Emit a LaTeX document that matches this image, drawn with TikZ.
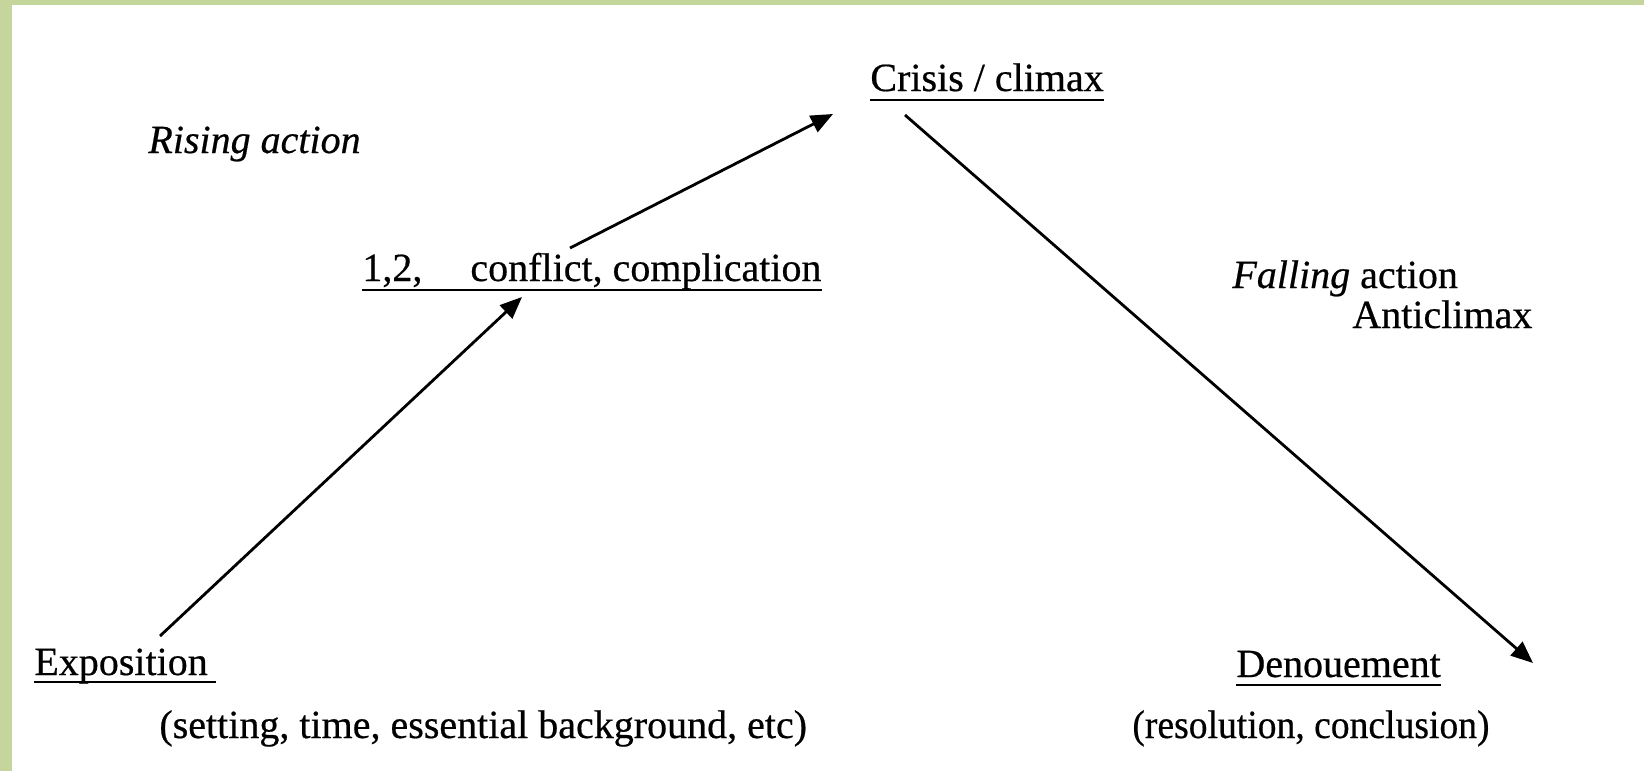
\documentclass[tikz,border=0pt]{standalone}
\usepackage{fontspec}
\setmainfont{Liberation Serif}[FakeBold=0.5]
\usetikzlibrary{arrows.meta}
\definecolor{framegreen}{RGB}{196,214,155}
\begin{document}
\begin{tikzpicture}[x=0.5pt,y=-0.5pt,
  lbl/.style={inner sep=0pt, anchor=base west, font=\fontsize{20pt}{24pt}\selectfont},
  uline/.style={line width=1.1pt},
  arr/.style={line width=1.4pt, -{Triangle[length=11pt,width=9pt]}}]
\useasboundingbox (0,0) rectangle (1644,771);
\fill[white] (0,0) rectangle (1644,771);
\fill[framegreen] (0,0) rectangle (1644,5);
\fill[framegreen] (0,0) rectangle (12,771);
% texts
\node[lbl] (rising) at (148,153) {\textit{Rising action}};
\node[lbl] (crisis) at (870,91) {Crisis / climax};
\node[lbl] (num) at (362,281) {1,2,};
\node[lbl] (conflict) at (470,281) {conflict, complication};
\node[lbl] (falling) at (1232,288) {\textit{Falling} action};
\node[lbl] (anti) at (1352,328) {Anticlimax};
\node[lbl] (expo) at (34,675) {Exposition};
\node[lbl] (setting) at (159,738) {(setting, time, essential background, etc)};
\node[lbl] (denoue) at (1236,677) {Denouement};
\node[lbl] (resol) at (1132,738) {\scalebox{0.94}[1]{(resolution, conclusion)}};
% underlines
\draw[uline] ([yshift=-4.5pt]crisis.base west) -- ([yshift=-4.5pt]crisis.base east);
\draw[uline] ([yshift=-4.5pt]num.base west) -- ([yshift=-4.5pt]conflict.base east);
\draw[uline] ([yshift=-3.3pt]expo.base west) -- ([yshift=-3.3pt,xshift=4pt]expo.base east);
\draw[uline] ([yshift=-3.8pt]denoue.base west) -- ([yshift=-3.8pt]denoue.base east);
% arrow end points
\coordinate (a1s) at (160,636);
\coordinate (a1e) at (522,297);
\coordinate (a2s) at (570,248);
\coordinate (a2e) at (833,114);
\coordinate (a3s) at (905,115);
\coordinate (a3e) at (1533,663);
\draw[arr] (a1s) -- (a1e);
\draw[arr] (a2s) -- (a2e);
\draw[arr] (a3s) -- (a3e);
\end{tikzpicture}
\end{document}
